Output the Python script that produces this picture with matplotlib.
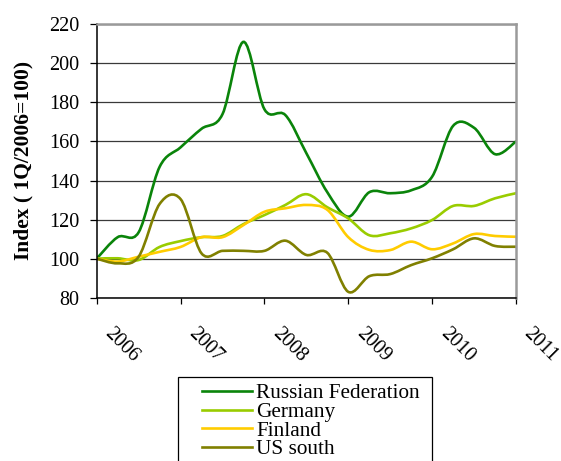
import numpy as np
import matplotlib.pyplot as plt
from matplotlib.path import Path
from matplotlib.patches import PathPatch, Rectangle
from matplotlib.lines import Line2D
from matplotlib.transforms import ScaledTranslation

plt.rcParams['font.family'] = ['Liberation Serif', 'DejaVu Serif']

# quarterly index, 1Q/2006 = 100
quarters = 2006 + np.arange(21) / 4
russia = [100, 111, 113.5, 147, 157, 166.5, 174, 211, 176.5, 173.5, 154, 134,
          121.5, 134, 133.5, 135, 142, 168, 167, 153.5, 160]
germany = [100, 100.2, 99.3, 106, 109, 111, 111.6, 117.7, 122.3, 127.5, 133,
           126.3, 120.6, 112, 113, 115.5, 119.8, 127, 127, 130.9, 133.5]
finland = [100, 98.5, 101, 103.5, 106, 111, 111, 117.2, 124, 125.8, 127.5, 125,
           111, 104.5, 104.4, 108.7, 104.8, 107.8, 112.6, 111.6, 111.2]
us_south = [100, 97.6, 101, 128, 130.5, 102.7, 104, 104, 104, 109.2, 101.9, 103,
            83, 91, 92.1, 96.7, 100.2, 104.8, 110.4, 106.5, 106.1]

names = ['Russian Federation', 'Germany', 'Finland', 'US south']
colors = ['#0a840a', '#99cc00', '#ffcc00', '#808000']
years = [2006, 2007, 2008, 2009, 2010, 2011]


def smooth_path(x, y):
    # excel-like smoothed line: bezier segments through every point
    pts = np.column_stack([x, y])
    n = len(pts)
    verts = [pts[0]]
    codes = [Path.MOVETO]
    for i in range(n - 1):
        p0 = pts[max(i - 1, 0)]
        p1 = pts[i]
        p2 = pts[i + 1]
        p3 = pts[min(i + 2, n - 1)]
        verts += [p1 + (p2 - p0) / 6, p2 - (p3 - p1) / 6, p2]
        codes += [Path.CURVE4] * 3
    return Path(verts, codes)


fig = plt.figure(figsize=(5.61, 4.61), dpi=100)
ax = fig.add_axes([0.1724, 0.3542, 0.7474, 0.5931])

for vals, c in zip([russia, germany, finland, us_south], colors):
    ax.add_patch(PathPatch(smooth_path(quarters, vals), fill=False,
                           edgecolor=c, lw=1.9, capstyle='round'))

ax.set_xlim(2006, 2011)
ax.set_ylim(80, 220)
ax.set_yticks(range(80, 221, 20))
ax.set_xticks(years)
ax.set_xticklabels([str(y) for y in years])
ax.grid(axis='y', color='#3a3a3a', lw=0.9)
ax.set_axisbelow(True)

for s in ['left', 'bottom']:
    ax.spines[s].set_color('black')
    ax.spines[s].set_linewidth(1.1)
for s in ['top', 'right']:
    ax.spines[s].set_color('#9a9a9a')
    ax.spines[s].set_linewidth(1.8)

ax.tick_params(axis='y', length=5.3, width=0.9, pad=7, labelsize=14.5)
ax.tick_params(axis='x', length=4.3, width=0.9, pad=15, labelsize=14.5)
shift = ScaledTranslation(4 / 100, 0, fig.dpi_scale_trans)
for lab in ax.get_xticklabels():
    lab.set_rotation(-45)
    lab.set_ha('left')
    lab.set_va('top')
    lab.set_transform(lab.get_transform() + shift)

fig.text(0.041, 0.651, 'Index ( 1Q/2006=100)', rotation=90, ha='center',
         va='center', fontsize=15.5, fontweight='bold')

handles = [Line2D([], [], color=c, lw=1.9) for c in colors]
fig.legend(handles, names, loc='upper left', bbox_to_anchor=(0.3595, 0.168),
           frameon=False, fontsize=15.3, handlelength=2.35, handletextpad=0.22,
           labelspacing=-0.06, borderpad=0.0, borderaxespad=0.0)
fig.patches.append(Rectangle((178 / 561, -0.05), (432 - 178) / 561,
                             0.05 + 1 - 377 / 461, transform=fig.transFigure,
                             fill=False, edgecolor='black', lw=0.9))

fig.savefig('out.png', dpi=100)
